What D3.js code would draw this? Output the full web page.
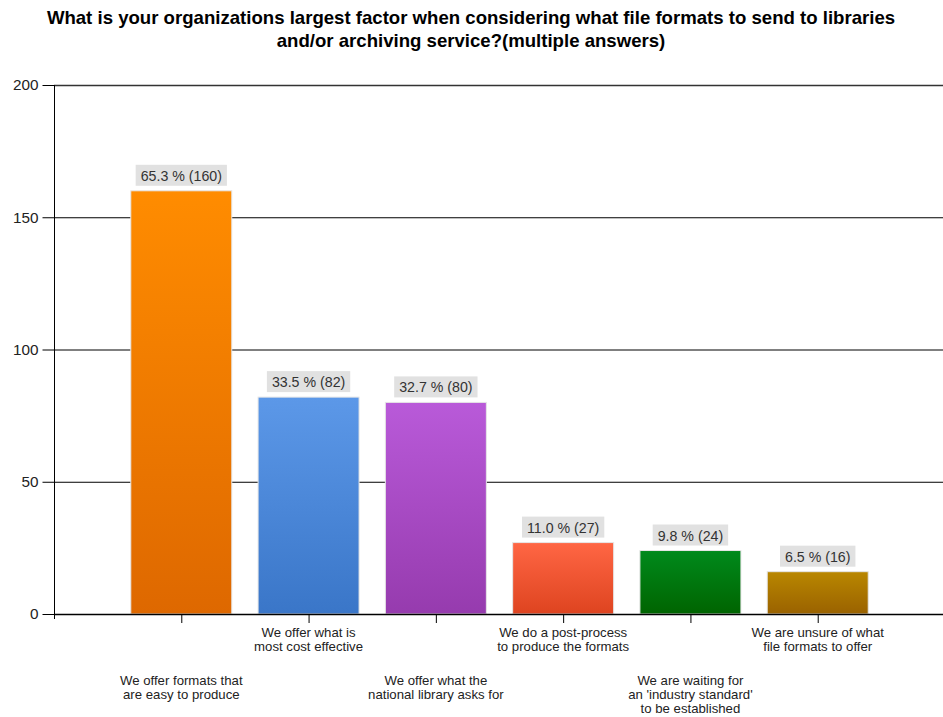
<!DOCTYPE html>
<html>
<head>
<meta charset="utf-8">
<script src="https://cdn.jsdelivr.net/npm/d3@7"></script>
<style>
  body { margin: 0; background: #fff; }
  svg { display: block; font-family: "Liberation Sans", Arial, sans-serif; }
</style>
</head>
<body>
<svg id="chart" width="943" height="717"></svg>
<script>
// Survey answers, counts and shares
const categories = [
  ["We offer formats that", "are easy to produce"],
  ["We offer what is", "most cost effective"],
  ["We offer what the", "national library asks for"],
  ["We do a post-process", "to produce the formats"],
  ["We are waiting for", "an 'industry standard'", "to be established"],
  ["We are unsure of what", "file formats to offer"]
];
const counts = [160, 82, 80, 27, 24, 16];
const percents = [65.3, 33.5, 32.7, 11.0, 9.8, 6.5];
const yTicks = [0, 50, 100, 150, 200];
const colorTop = ["#ff8c00", "#5c98e8", "#b95ad9", "#ff6644", "#008a1c", "#b98700"];
const colorBottom = ["#de6800", "#3a76c8", "#963bae", "#de4420", "#006400", "#9a6200"];
const titleLines = [
  "What is your organizations largest factor when considering what file formats to send to libraries",
  "and/or archiving service?(multiple answers)"
];

(function drawChart() {
  const svg = d3.select("#chart");
  const plotLeft = 54, plotRight = 945, plotTop = 85, plotBottom = 614;

  const x = d3.scalePoint().domain(d3.range(categories.length)).range([plotLeft, plotRight]).padding(1);
  const y = d3.scaleLinear().domain([0, 200]).range([plotBottom, plotTop]);
  const barW = 101;

  // gradients
  const defs = svg.append("defs");
  colorTop.forEach((c, i) => {
    const g = defs.append("linearGradient").attr("id", "g" + i)
      .attr("x1", 0).attr("y1", 0).attr("x2", 0).attr("y2", 1);
    g.append("stop").attr("offset", "0%").attr("stop-color", c);
    g.append("stop").attr("offset", "100%").attr("stop-color", colorBottom[i]);
  });

  // title
  svg.append("g").selectAll("text").data(titleLines).join("text")
    .attr("x", 471).attr("y", (d, i) => 24 + i * 23)
    .attr("text-anchor", "middle")
    .attr("font-size", 18.6).attr("font-weight", "bold").attr("fill", "#000")
    .text(d => d);

  // horizontal gridlines
  svg.append("g").selectAll("line").data(yTicks.filter(v => v > 0)).join("line")
    .attr("x1", plotLeft).attr("x2", plotRight)
    .attr("y1", d => y(d) + 0.5).attr("y2", d => y(d) + 0.5)
    .attr("stroke", d => d === 200 ? "#333" : "#000")
    .attr("stroke-width", d => d === 200 ? 1.6 : 1);

  // y axis
  const yAxis = svg.append("g").attr("transform", `translate(${plotLeft + 0.5},0)`)
    .call(d3.axisLeft(y).tickValues(yTicks).tickSize(12).tickPadding(4).tickSizeOuter(0));
  yAxis.select(".domain").attr("stroke", "#000")
    .attr("d", `M0,${plotTop}V${plotBottom + 5}`);
  yAxis.selectAll(".tick line").attr("stroke", "#000");
  yAxis.selectAll("text").attr("font-size", 15.3).attr("fill", "#222")
    .attr("font-family", "Liberation Sans, Arial, sans-serif");

  // bars
  svg.append("g").selectAll("rect").data(counts).join("rect")
    .attr("x", (d, i) => x(i) - barW / 2)
    .attr("y", d => y(d))
    .attr("width", barW)
    .attr("height", d => y(0) - y(d))
    .attr("fill", (d, i) => `url(#g${i})`)
    .attr("stroke", "#e6e6e6").attr("stroke-width", 1);

  // value labels
  const lab = svg.append("g").selectAll("g").data(counts).join("g")
    .attr("transform", (d, i) => `translate(${x(i)},${y(d) - 5})`);
  lab.append("text")
    .attr("text-anchor", "middle").attr("y", -5)
    .attr("font-size", 14.2).attr("fill", "#333")
    .text((d, i) => `${percents[i].toFixed(1)} % (${d})`);
  lab.each(function () {
    const g = d3.select(this);
    const bb = g.select("text").node().getBBox();
    g.insert("rect", "text")
      .attr("x", bb.x - 5).attr("y", -21)
      .attr("width", bb.width + 10).attr("height", 21)
      .attr("fill", "#e1e1e1");
  });

  // x axis
  const xAxis = svg.append("g").attr("transform", `translate(0,${plotBottom})`)
    .call(d3.axisBottom(x).tickSize(9).tickFormat(""));
  xAxis.select(".domain").attr("stroke", "#000").attr("stroke-width", 1.6)
    .attr("d", `M${plotLeft},0.5H${plotRight}`);
  xAxis.selectAll(".tick line").attr("stroke", "#000");

  // category labels, alternating rows
  svg.append("g").selectAll("text").data(categories).join("text")
    .attr("text-anchor", "middle")
    .attr("font-size", 13.2).attr("fill", "#222")
    .attr("transform", (d, i) => `translate(${x(i)},${i % 2 === 0 ? 685 : 637})`)
    .selectAll("tspan").data(d => d).join("tspan")
    .attr("x", 0).attr("dy", (d, j) => j === 0 ? 0 : 14)
    .text(d => d);
})();
</script>
</body>
</html>
